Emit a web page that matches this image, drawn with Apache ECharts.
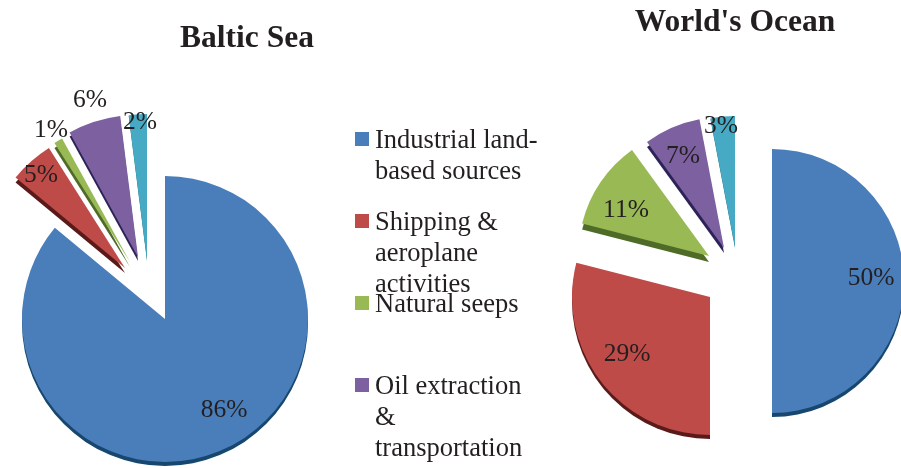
<!DOCTYPE html>
<html>
<head>
<meta charset="utf-8">
<style>html,body{margin:0;padding:0;background:#fff}#c{width:901px;height:468px}</style>
<script src="https://cdn.jsdelivr.net/npm/echarts@6/dist/echarts.min.js"></script>
</head>
<body>
<div id="c"></div>
<script>
const categories = ['Industrial land-based sources', 'Shipping & aeroplane activities', 'Natural seeps', 'Oil extraction & transportation', 'Other'];
const balticValues = [86, 5, 1, 6, 2];
const oceanValues = [50, 29, 11, 7, 3];
const chartTitles = ['Baltic Sea', "World's Ocean"];

const legendLines = {
  'Industrial land-based sources': ['Industrial land-', 'based sources'],
  'Shipping & aeroplane activities': ['Shipping &', 'aeroplane', 'activities'],
  'Natural seeps': ['Natural seeps'],
  'Oil extraction & transportation': ['Oil extraction', '&', 'transportation']
};
const colors = ['#4a7ebb', '#be4b48', '#98b954', '#7d60a0', '#46aac5'];
const darks = ['#17476f', '#5a1a1a', '#4f6b28', '#2c2358', '#1d6a80'];
const FONT = '"Liberation Serif", "Times New Roman", serif';

const balticLayout = {
  centers: [[165, 319], [125, 268], [130, 262], [138, 257], [147, 260]],
  radii: [143, 142, 141, 142, 146],
  depth: [4, 5, 5, 4, 1],
  labels: [[224, 410], [41, 175], [51, 130], [90, 100], [140, 122]]
};
const oceanLayout = {
  centers: [[772, 281], [710, 297], [709, 256], [724, 248], [735, 247]],
  radii: [132, 138, 131, 131, 131],
  depth: [4, 4, 6, 5, 1],
  labels: [[871, 278], [627, 354], [626, 210], [683, 156], [721, 126]]
};

function slices(values, layout, tag) {
  const total = values.reduce((a, b) => a + b, 0);
  const out = [];
  const make = (i, start, isDepth) => ({
    type: 'pie',
    name: tag + (isDepth ? ' depth ' : ' ') + i,
    silent: true,
    animation: false,
    clockwise: true,
    avoidLabelOverlap: false,
    startAngle: 90 - start,
    minAngle: 0,
    radius: [0, layout.radii[i]],
    center: [layout.centers[i][0], layout.centers[i][1] + (isDepth ? layout.depth[i] : 0)],
    z: isDepth ? 1 : 2 + i,
    labelLine: { show: false },
    label: { show: false },
    emphasis: { disabled: true },
    labelLayout: isDepth ? undefined : {
      x: layout.labels[i][0], y: layout.labels[i][1], align: 'center', verticalAlign: 'middle'
    },
    data: [
      {
        name: isDepth ? tag + ' side ' + i : categories[i],
        value: values[i],
        itemStyle: { color: isDepth ? darks[i] : colors[i], borderWidth: 0 },
        label: isDepth ? { show: false } : {
          show: true, position: 'inside', formatter: values[i] + '%',
          fontFamily: FONT, fontSize: 25.5, color: '#231f20', textBorderWidth: 0
        }
      },
      {
        name: tag + ' gap ' + i + (isDepth ? ' side' : ''),
        value: total - values[i],
        itemStyle: { color: 'transparent', borderWidth: 0 },
        label: { show: false }
      }
    ]
  });
  let start = 0;
  values.forEach((v, i) => {
    out.push(make(i, start, true));
    out.push(make(i, start, false));
    start += v / total * 360;
  });
  return out;
}

const LINE = 31;
const legendTextCentres = [141, 223, 305, 387];
const legends = categories.slice(0, 4).map((name, i) => {
  const n = legendLines[name].length;
  return {
    show: true,
    data: [name],
    orient: 'vertical',
    left: 355,
    top: legendTextCentres[i] - (2 * n - 1) * LINE / 2,
    padding: 0,
    itemWidth: 14,
    itemHeight: 18,
    itemGap: 0,
    icon: 'path://M0 0L14 0L14 14L0 14Z M0 18L0 18Z',
    selectedMode: false,
    textStyle: { fontFamily: FONT, fontSize: 26.5, lineHeight: LINE, color: '#231f20', padding: [0, 0, 0, 1] },
    formatter: () => '\n'.repeat(n - 1) + legendLines[name].join('\n')
  };
});

const chart = echarts.init(document.getElementById('c'), null, { renderer: 'canvas' });
chart.setOption({
  animation: false,
  backgroundColor: '#fff',
  tooltip: { show: false },
  title: [
    { text: chartTitles[0], left: 247, top: 23, textAlign: 'center', padding: 0,
      textStyle: { fontFamily: FONT, fontWeight: 'bold', fontSize: 31.5, color: '#231f20' } },
    { text: chartTitles[1], left: 735, top: 7, textAlign: 'center', padding: 0,
      textStyle: { fontFamily: FONT, fontWeight: 'bold', fontSize: 31.5, color: '#231f20' } }
  ],
  legend: legends,
  series: slices(balticValues, balticLayout, 'Baltic').concat(slices(oceanValues, oceanLayout, 'Ocean'))
});
</script>
</body>
</html>
